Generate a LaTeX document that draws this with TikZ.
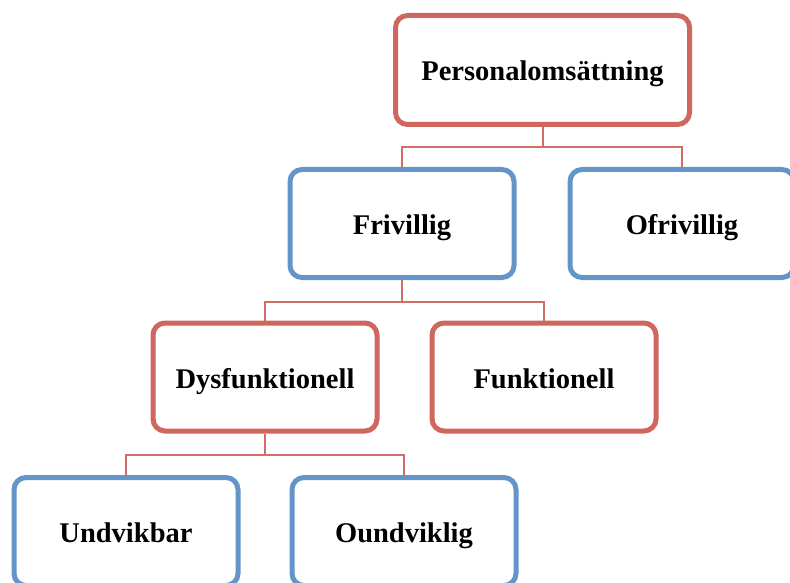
\documentclass[tikz,border=0pt]{standalone}
\usepackage{fontspec}
\setmainfont{Liberation Serif}
\definecolor{boxred}{HTML}{CF675F}
\definecolor{boxblue}{HTML}{6495C9}
\definecolor{linered}{HTML}{D26E67}
\begin{document}
\begin{tikzpicture}[x=1pt,y=-1pt,
  basebox/.style={rectangle, rounded corners=12pt, line width=5pt, fill=white,
    minimum width=224pt, minimum height=108pt, inner sep=0pt,
    text height=22pt, text depth=0pt,
    font=\fontsize{28.5}{33}\selectfont\bfseries},
  redbox/.style={basebox, draw=boxred},
  bluebox/.style={basebox, draw=boxblue},
  conn/.style={draw=linered, line width=2pt}]
\useasboundingbox (0,0) rectangle (790,583);
\fill[white] (0,0) rectangle (790,583);
\clip (0,0) rectangle (790,583);
\node[redbox, minimum width=294pt, minimum height=109pt] (P) at (542.5,70) {Personalomsättning};
\node[bluebox] (F) at (402,223.5) {Frivillig};
\node[bluebox] (O) at (682,223.5) {Ofrivillig};
\node[redbox] (D) at (265,377) {Dysfunktionell};
\node[redbox] (Fu) at (544,377) {Funktionell};
\node[bluebox] (U) at (126,531.5) {Undvikbar};
\node[bluebox] (Ou) at (404,531.5) {Oundviklig};
\draw[conn] (P.south) -- ++(0,20) coordinate (j1);
\draw[conn] (j1) -| (F.north);
\draw[conn] (j1) -| (O.north);
\draw[conn] (F.south) -- ++(0,22) coordinate (j2);
\draw[conn] (j2) -| (D.north);
\draw[conn] (j2) -| (Fu.north);
\draw[conn] (D.south) -- ++(0,21) coordinate (j3);
\draw[conn] (j3) -| (U.north);
\draw[conn] (j3) -| (Ou.north);
\end{tikzpicture}
\end{document}
